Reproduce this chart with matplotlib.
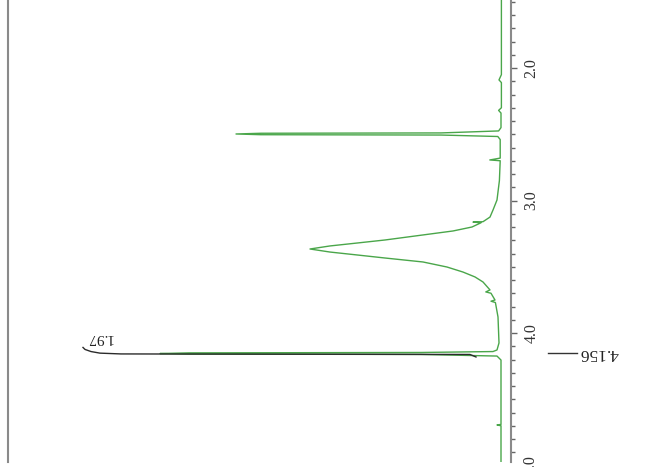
import matplotlib
matplotlib.use("Agg")
import matplotlib.pyplot as plt
import matplotlib.transforms as mtransforms
from matplotlib.ticker import MultipleLocator, FixedLocator

# ---- data (chemical shift in ppm, relative intensity) ----
spec_ppm = [1.35, 2.05, 2.09, 2.11, 2.30, 2.32, 2.34, 2.45, 2.475, 2.490, 2.4925, 2.498,
            2.5035, 2.506, 2.517, 2.54, 2.68, 2.694, 2.70, 2.85, 2.996, 3.072, 3.125,
            3.16, 3.163, 3.168, 3.200, 3.230, 3.260, 3.298, 3.321, 3.343, 3.366, 3.389,
            3.411, 3.434, 3.464, 3.502, 3.540, 3.577, 3.615, 3.675, 3.69, 3.70, 3.751,
            3.76, 3.77, 3.879, 4.075, 4.128, 4.140, 4.147, 4.150, 4.155, 4.159, 4.162,
            4.174, 4.204, 4.69, 4.694, 4.70, 5.05]
spec_int = [-0.1, -0.1, 0.5, -0.1, -0.1, 0.6, 0.0, 0.0, 0.6, 15, 60, 66.25,
            60, 15, 0.8, 0.2, 0.2, 2.8, 0.2, 0.4, 1.0, 2.0, 2.75,
            4.5, 7.0, 5.0, 7.25, 12, 19.5, 29, 36, 42.75, 47.75, 42.75,
            36, 29, 19.5, 13.5, 9.5, 6.5, 4.5, 2.75, 3.8, 2.5, 1.5,
            2.5, 1.4, 0.75, 0.5, 1.0, 2.0, 20, 78, 85.25, 78, 20,
            1.0, 0.0, 0.0, 1.0, 0.0, 0.0]

integral_ppm = [4.181, 4.162, 4.158, 4.152, 4.140, 4.124, 4.109]
integral_int = [6.25, 7.75, 95.0, 100.25, 102.5, 104.0, 104.5]
integral_label = "1.97"

peak_label = "4.156"
peak_ppm = 4.150

tick_major = [2.0, 3.0, 4.0]
tick_labels = ["2.0", "3.0", "4.0"]

# ---- figure ----
W, H = 652, 467
fig = plt.figure(figsize=(W / 100, H / 100), dpi=100)

def ypix(p):
    return 68 + (p - 2.0) * 132.5

ytop, ybot = 1.35, 4.975
ax = fig.add_axes([8 / W, (H - ypix(ybot)) / H, 503 / W, (ypix(ybot) - ypix(ytop)) / H])
ax.set_ylim(ybot, ytop)
ax.set_xlim((501 - 8) / 4, (501 - 511) / 4)

green = "#4aa64a"
ax.plot(spec_int, spec_ppm, color=green, lw=1.0, solid_joinstyle="round")
ax.plot(integral_int, integral_ppm, color="#2b2b2b", lw=1.0)

serif = ["Liberation Serif", "DejaVu Serif"]
ax.text(100.5, 4.034, integral_label, rotation=180, ha="center", va="center",
        fontsize=11, family=serif, color="#222222")

# peak label outside the axes
ax.plot([-11.75, -19.0], [peak_ppm, peak_ppm], color="#333333", lw=1.0, clip_on=False)
ax.text(-24.5, peak_ppm, peak_label, rotation=180, ha="center", va="center",
        fontsize=12.5, family=serif, color="#222222", clip_on=False)

# axis styling
for s in ["top", "bottom"]:
    ax.spines[s].set_visible(False)
for s in ["left", "right"]:
    ax.spines[s].set_color("#8a8a8a")
    ax.spines[s].set_linewidth(1.5)
ax.xaxis.set_visible(False)
ax.yaxis.tick_right()
ax.yaxis.set_major_locator(FixedLocator(tick_major))
ax.set_yticklabels(tick_labels, rotation=90, va="center", family=serif,
                   fontsize=11.5, color="#333333")
ax.yaxis.set_minor_locator(MultipleLocator(0.1))
ax.tick_params(axis="y", which="major", length=4.5, width=1.0, color="#666666", pad=4.5)
ax.tick_params(axis="y", which="minor", length=3.0, width=1.0, color="#666666")
ax.tick_params(axis="y", which="both", left=False)

# the "5.0" label falls just below the visible axis end (cut by the image edge)
ax.text(1.0, 5.0, "5.0", rotation=90, ha="left", va="center", family=serif,
        fontsize=11.5, color="#333333", clip_on=False,
        transform=ax.get_yaxis_transform() +
        mtransforms.ScaledTranslation(11 / 100, 0, fig.dpi_scale_trans))

fig.savefig("out.png", dpi=100, facecolor="white")
